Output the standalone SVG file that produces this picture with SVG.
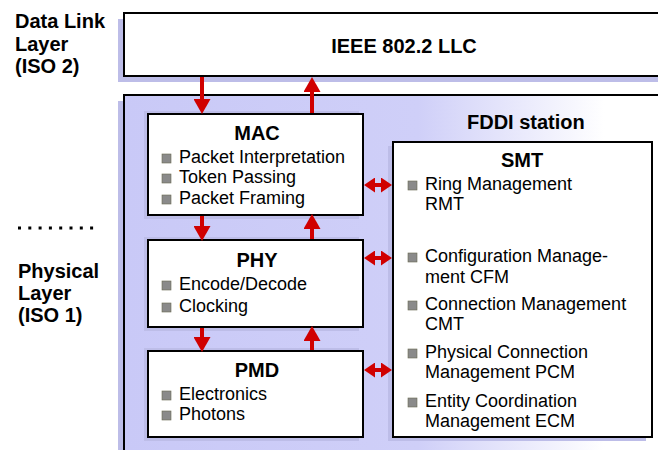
<svg xmlns="http://www.w3.org/2000/svg" width="658" height="450" viewBox="0 0 658 450">
<style>
.lbl{font-family:"Liberation Sans",Arial,sans-serif;font-weight:bold;font-size:20px;fill:#000}
.ttl{font-family:"Liberation Sans",Arial,sans-serif;font-weight:bold;font-size:20px;fill:#000;text-anchor:middle}
.itm{font-family:"Liberation Sans",Arial,sans-serif;font-size:18px;fill:#000}
.box{fill:#fff;stroke:#000;stroke-width:2}
.shd{fill:#bdbde8}
.bul{fill:#8a8a8a;stroke:#6a6a50;stroke-width:0.6}
.arr{stroke:#d00000;stroke-width:4;fill:none}
</style>
<defs>
<linearGradient id="lav" gradientUnits="userSpaceOnUse" x1="124" y1="0" x2="658" y2="0">
<stop offset="0" stop-color="#c9c9f7"/>
<stop offset="0.55" stop-color="#cfcff8"/>
<stop offset="0.9" stop-color="#ffffff"/>
</linearGradient>
<marker id="head" markerUnits="userSpaceOnUse" markerWidth="15" markerHeight="17" refX="0" refY="8.5" orient="auto" viewBox="0 0 15 17">
<path d="M0,0 L15,8.5 L0,17 z" fill="#d00000"/>
</marker>
<marker id="sh" markerUnits="userSpaceOnUse" markerWidth="11" markerHeight="15" refX="0" refY="7.5" orient="auto-start-reverse" viewBox="0 0 11 15">
<path d="M0,0 L11,7.5 L0,15 z" fill="#d00000"/>
</marker>
</defs>
<rect width="658" height="450" fill="#fff"/>

<g id="layer-labels">
<text class="lbl" x="15" y="28">Data Link</text>
<text class="lbl" x="15" y="51">Layer</text>
<text class="lbl" x="15" y="73">(ISO 2)</text>
<line x1="18" y1="228" x2="98" y2="228" stroke="#000" stroke-width="3" stroke-dasharray="3,7.3"/>
<text class="lbl" x="18" y="278">Physical</text>
<text class="lbl" x="18" y="300">Layer</text>
<text class="lbl" x="18" y="322">(ISO 1)</text>
</g>

<g id="llc">
<rect class="shd" x="118" y="19" width="540" height="63"/>
<rect class="box" x="124" y="13" width="540" height="63"/>
<text class="ttl" x="404" y="53">IEEE 802.2 LLC</text>
</g>

<g id="fddi-station">
<rect class="shd" x="118" y="101" width="540" height="360"/>
<rect x="124" y="95" width="540" height="360" fill="url(#lav)" stroke="#000" stroke-width="2"/>
<text class="lbl" x="467" y="129">FDDI station</text>
</g>

<g id="mac">
<rect class="shd" x="144" y="111" width="215" height="108"/>
<rect class="box" x="148" y="114" width="215" height="101"/>
<text class="ttl" x="257" y="140">MAC</text>
<rect class="bul" x="162" y="154" width="9" height="9"/>
<text class="itm" x="179" y="163">Packet Interpretation</text>
<rect class="bul" x="162" y="174" width="9" height="9"/>
<text class="itm" x="179" y="183">Token Passing</text>
<rect class="bul" x="162" y="195" width="9" height="9"/>
<text class="itm" x="179" y="204">Packet Framing</text>
</g>

<g id="phy">
<rect class="shd" x="144" y="237" width="215" height="94"/>
<rect class="box" x="148" y="240" width="215" height="87"/>
<text class="ttl" x="257" y="267">PHY</text>
<rect class="bul" x="162" y="281" width="9" height="9"/>
<text class="itm" x="179" y="290">Encode/Decode</text>
<rect class="bul" x="162" y="303" width="9" height="9"/>
<text class="itm" x="179" y="312">Clocking</text>
</g>

<g id="pmd">
<rect class="shd" x="144" y="348" width="215" height="93"/>
<rect class="box" x="148" y="351" width="215" height="86"/>
<text class="ttl" x="257" y="377">PMD</text>
<rect class="bul" x="162" y="391" width="9" height="9"/>
<text class="itm" x="179" y="400">Electronics</text>
<rect class="bul" x="162" y="411" width="9" height="9"/>
<text class="itm" x="179" y="420">Photons</text>
</g>

<g id="smt">
<rect class="shd" x="388" y="146" width="258" height="295"/>
<rect class="box" x="393" y="142" width="259" height="295"/>
<text class="ttl" x="522" y="167">SMT</text>
<rect class="bul" x="408" y="181" width="9" height="9"/>
<text class="itm" x="425" y="190">Ring Management</text>
<text class="itm" x="425" y="210">RMT</text>
<rect class="bul" x="408" y="253" width="9" height="9"/>
<text class="itm" x="425" y="262">Configuration Manage-</text>
<text class="itm" x="425" y="283">ment CFM</text>
<rect class="bul" x="408" y="301" width="9" height="9"/>
<text class="itm" x="425" y="310">Connection Management</text>
<text class="itm" x="425" y="330">CMT</text>
<rect class="bul" x="408" y="349" width="9" height="9"/>
<text class="itm" x="425" y="358">Physical Connection</text>
<text class="itm" x="425" y="378">Management PCM</text>
<rect class="bul" x="408" y="398" width="9" height="9"/>
<text class="itm" x="425" y="407">Entity Coordination</text>
<text class="itm" x="425" y="427">Management ECM</text>
</g>

<g id="connectors">
<line class="arr" x1="202" y1="77" x2="202" y2="99" marker-end="url(#head)"/>
<line class="arr" x1="312" y1="113" x2="312" y2="92" marker-end="url(#head)"/>
<line class="arr" x1="202" y1="216" x2="202" y2="226" marker-end="url(#head)"/>
<line class="arr" x1="312" y1="239" x2="312" y2="229" marker-end="url(#head)"/>
<line class="arr" x1="202" y1="328" x2="202" y2="337" marker-end="url(#head)"/>
<line class="arr" x1="312" y1="350" x2="312" y2="341" marker-end="url(#head)"/>
<line class="arr" x1="375" y1="185" x2="381" y2="185" marker-start="url(#sh)" marker-end="url(#sh)"/>
<line class="arr" x1="375" y1="258" x2="381" y2="258" marker-start="url(#sh)" marker-end="url(#sh)"/>
<line class="arr" x1="375" y1="370" x2="381" y2="370" marker-start="url(#sh)" marker-end="url(#sh)"/>
</g>
</svg>
